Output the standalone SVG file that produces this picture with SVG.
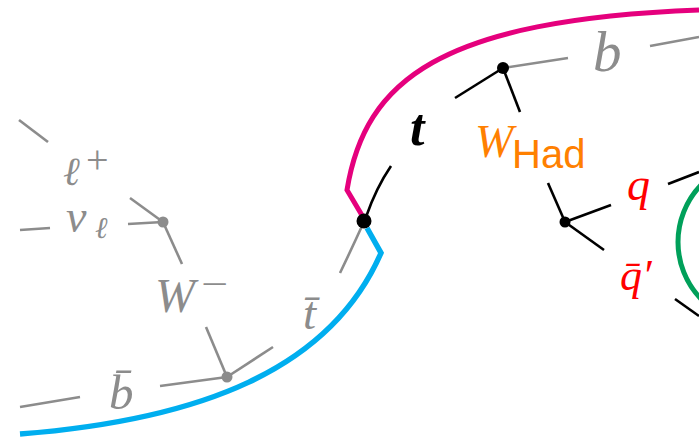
<svg xmlns="http://www.w3.org/2000/svg" width="699" height="440" viewBox="0 0 699 440">
<style>
.g{stroke:#8c8c8c;stroke-width:2.6;fill:none;stroke-linecap:butt}
.k{stroke:#000;stroke-width:2.6;fill:none}
.lab{font-family:"Liberation Serif","Times New Roman",serif;font-style:italic}
.gt{fill:#8c8c8c}
</style>
<rect width="699" height="440" fill="#fff"/>
<g id="bands">
<path d="M363,217 L347,190 C365,80 440,20 699,10" fill="none" stroke="#e5007d" stroke-width="5"/>
<path d="M367,228 L381,253 C330,370 200,420 20,434" fill="none" stroke="#00aeef" stroke-width="5.5"/>
<circle cx="760" cy="242" r="82" fill="none" stroke="#00a05a" stroke-width="5"/>
</g>
<g id="connectors">
<line class="g" x1="19" y1="120" x2="48" y2="142"/>
<line class="g" x1="20" y1="230" x2="50" y2="228"/>
<line class="g" x1="128" y1="224" x2="163" y2="222"/>
<line class="g" x1="130" y1="198" x2="163" y2="222"/>
<line class="g" x1="163" y1="222" x2="182" y2="264"/>
<line class="g" x1="206" y1="327" x2="227" y2="377"/>
<line class="g" x1="227" y1="377" x2="273" y2="347"/>
<line class="g" x1="227" y1="377" x2="160" y2="386"/>
<line class="g" x1="80" y1="397" x2="20" y2="407"/>
<path class="g" d="M362,226 Q352,248 340,273"/>
<line class="g" x1="503" y1="68" x2="568" y2="58"/>
<line class="g" x1="650" y1="46" x2="699" y2="37"/>
<path class="k" d="M366,217 Q376,188 391,166"/>
<line class="k" x1="455" y1="98" x2="503" y2="68"/>
<line class="k" x1="503" y1="68" x2="520" y2="112"/>
<line class="k" x1="548" y1="183" x2="565" y2="222"/>
<line class="k" x1="565" y1="222" x2="611" y2="205"/>
<line class="k" x1="565" y1="222" x2="604" y2="250"/>
<line class="k" x1="668" y1="184" x2="699" y2="172"/>
<line class="k" x1="675" y1="299" x2="699" y2="316"/>
</g>
<g id="v-top"><circle cx="364" cy="221" r="7.5" fill="#000"/></g>
<g id="v-t"><circle cx="503" cy="68" r="6" fill="#000"/></g>
<g id="v-whad"><circle cx="565" cy="222" r="5.5" fill="#000"/></g>
<g id="v-wminus"><circle cx="163" cy="222" r="5.5" fill="#8c8c8c"/></g>
<g id="v-tbar"><circle cx="227" cy="377" r="5.5" fill="#8c8c8c"/></g>
<g id="labels">
<g id="l-lplus"><text class="lab gt" x="63" y="185" font-size="40">ℓ</text><text class="gt" x="86" y="173" font-size="40" font-family="Liberation Serif,serif">+</text></g>
<g id="l-nu"><text class="lab gt" x="66" y="232" font-size="46">ν</text><text class="lab gt" x="95" y="238" font-size="30">ℓ</text></g>
<g id="l-wminus"><text class="lab gt" x="155" y="312" font-size="48">W</text><text class="gt" x="201" y="296" font-size="36" font-family="Liberation Serif,serif" textLength="27" lengthAdjust="spacingAndGlyphs">−</text></g>
<g id="l-tbar"><text class="lab gt" x="303" y="329" font-size="47">t̄</text></g>
<g id="l-bbar"><text class="lab gt" x="109" y="409" font-size="49">b̄</text></g>
<g id="l-t"><text class="lab" x="410" y="145" font-size="52" font-weight="bold" fill="#000">t</text></g>
<g id="l-b"><text class="lab gt" x="593" y="71" font-size="57">b</text></g>
<g id="l-whad"><text class="lab" x="475" y="157" font-size="46" fill="#ff8000">W</text><text x="512" y="168" font-size="40" font-family="Liberation Sans,Arial,sans-serif" fill="#ff8000">Had</text></g>
<g id="l-q"><text class="lab" x="627" y="200" font-size="46" fill="#ff0000">q</text></g>
<g id="l-qbar"><text class="lab" x="620" y="290" font-size="44" fill="#ff0000">q̄′</text></g>
</g>
</svg>
